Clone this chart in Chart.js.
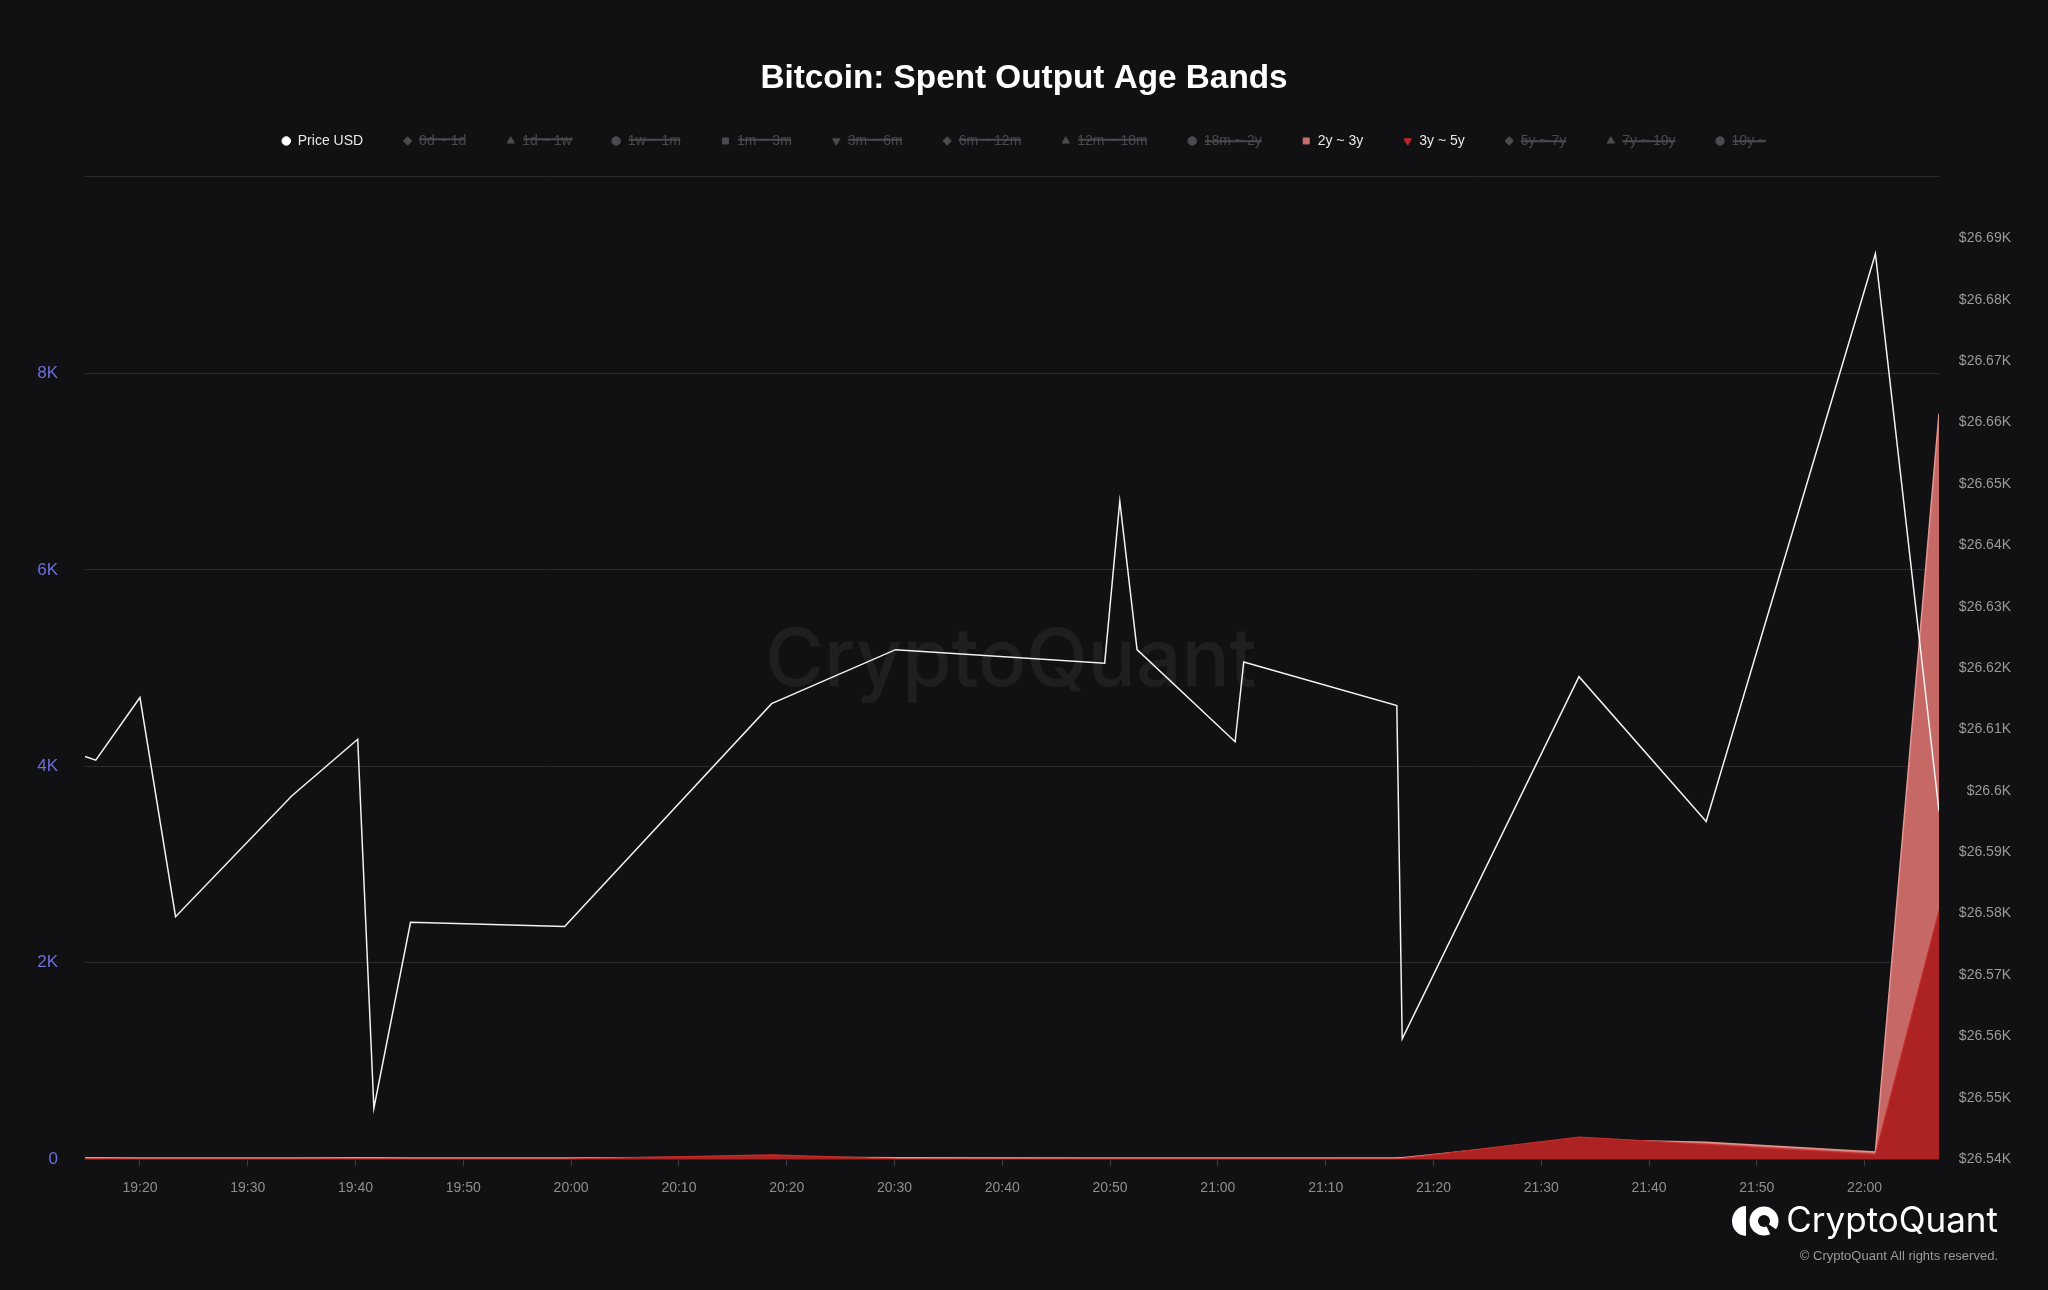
<!DOCTYPE html>
<html>
<head>
<meta charset="utf-8">
<title>Bitcoin: Spent Output Age Bands</title>
<script src="https://cdn.jsdelivr.net/npm/chart.js@4.4.1/dist/chart.umd.min.js"></script>
<style>
  html, body { margin: 0; padding: 0; background: #111114; }
  #wrap { width: 2048px; height: 1290px; position: relative; }
</style>
</head>
<body>
<div id="wrap"><canvas id="chart"></canvas></div>
<script>
// time in minutes after midnight (19:20 = 1160)
const times = [1154.9, 1155.9, 1160.0, 1163.3, 1174.1, 1180.2, 1181.7, 1185.1, 1199.4, 1218.6, 1230.1,
               1249.5, 1250.9, 1252.5, 1261.6, 1262.4, 1276.6, 1277.1, 1293.5, 1305.3, 1321.0, 1326.9];
const priceUsd = [26605.6, 26605.0, 26615.2, 26579.5, 26599.2, 26608.4, 26548.3, 26578.6, 26577.9, 26614.2, 26623.0,
                  26620.8, 26647.2, 26623.0, 26608.0, 26621.0, 26613.9, 26559.6, 26618.6, 26595.0, 26687.5, 26596.7];
const band2y3y = [14, 14, 12, 12, 12, 14, 14, 12, 12, 22, 14, 12, 12, 12, 12, 12, 14, 16, 200, 172, 74, 7590];
const band3y5y = [3, 3, 2, 2, 2, 3, 3, 2, 2, 45, 3, 2, 2, 2, 2, 2, 3, 5, 226, 150, 50, 2530];

const bandNames = ["0d ~ 1d", "1d ~ 1w", "1w ~ 1m", "1m ~ 3m", "3m ~ 6m", "6m ~ 12m", "12m ~ 18m",
                   "18m ~ 2y", "2y ~ 3y", "3y ~ 5y", "5y ~ 7y", "7y ~ 10y", "10y ~"];
const bandStyles = ["rectRot", "triangle", "circle", "rect", "triangle", "rectRot", "triangle",
                    "circle", "rect", "triangle", "rectRot", "triangle", "circle"];
const bandRotations = [0, 0, 0, 0, 180, 0, 0, 0, 0, 180, 0, 0, 0];

const leftTicks = [0, 2000, 4000, 6000, 8000, 10000];
const rightTickMin = 26540, rightTickMax = 26700;

function pts(values) {
    return times.map((t, i) => ({ x: t, y: values[i] }));
}

function fmtTime(v) {
    const h = Math.floor(v / 60);
    const m = Math.round(v - h * 60);
    return h + ':' + String(m).padStart(2, '0');
}

const datasets = [{
    label: "Price USD",
    data: pts(priceUsd),
    yAxisID: 'yR',
    borderColor: '#f2f2f2',
    backgroundColor: '#f2f2f2',
    legendColor: '#ffffff',
    borderWidth: 1.5,
    pointRadius: 0,
    pointStyle: 'circle',
    tension: 0,
    fill: false,
    order: 0
}];

bandNames.forEach((name, i) => {
    const ds = {
        label: name,
        data: [],
        yAxisID: 'yL',
        pointStyle: bandStyles[i],
        pointRotation: bandRotations[i],
        pointRadius: 0,
        borderWidth: 1,
        hidden: true,
        order: 3 + i,
        legendColor: '#4a4a50'
    };
    if (name === "2y ~ 3y") {
        Object.assign(ds, {
            data: pts(band2y3y), hidden: false, fill: 'origin', order: 2,
            backgroundColor: 'rgba(214,112,110,0.92)', borderColor: '#e39592',
            borderWidth: 1.5, legendColor: '#c86e6c'
        });
    }
    if (name === "3y ~ 5y") {
        Object.assign(ds, {
            data: pts(band3y5y), hidden: false, fill: 'origin', order: 1,
            backgroundColor: '#ad2323', borderColor: '#c92d2a',
            borderWidth: 1.2, legendColor: '#c0262a'
        });
    }
    datasets.push(ds);
});

const bgPlugin = {
    id: 'bg',
    beforeDraw(chart) {
        const ctx = chart.ctx;
        ctx.save();
        ctx.fillStyle = '#111114';
        ctx.fillRect(0, 0, chart.width, chart.height);
        ctx.restore();
    }
};

// extra room under the legend, the legend padding alone is not enough
const legendGapPlugin = {
    id: 'legendGap',
    beforeLayout(chart) {
        const lg = chart.legend;
        if (lg && !lg._gapPatched) {
            const fit = lg.fit.bind(lg);
            lg.fit = function() { fit(); this.height += 19; };
            lg._gapPatched = true;
        }
    }
};

const watermarkPlugin = {
    id: 'watermark',
    beforeDatasetsDraw(chart) {
        const ctx = chart.ctx;
        const a = chart.chartArea;
        ctx.save();
        ctx.fillStyle = 'rgba(255,255,255,0.06)';
        ctx.font = '500 80px Inter, "Noto Sans", sans-serif';
        ctx.textAlign = 'center';
        ctx.textBaseline = 'middle';
        ctx.fillText('CryptoQuant', (a.left + a.right) / 2 - 1, 662);
        ctx.restore();
    }
};

const logoPlugin = {
    id: 'logo',
    afterDraw(chart) {
        const ctx = chart.ctx;
        ctx.save();
        ctx.fillStyle = '#ffffff';
        // icon: left crescent + round mark
        ctx.beginPath();
        ctx.ellipse(1746, 1221, 14, 15, 0, Math.PI / 2, Math.PI * 1.5);
        ctx.closePath();
        ctx.fill();
        ctx.beginPath();
        ctx.arc(1764, 1221, 14.5, 0, Math.PI * 2);
        ctx.fill();
        ctx.fillStyle = '#111114';
        ctx.beginPath();
        ctx.arc(1764, 1221, 6, 0, Math.PI * 2);
        ctx.fill();
        ctx.beginPath();
        ctx.moveTo(1764, 1221);
        ctx.lineTo(1780, 1232);
        ctx.lineTo(1772, 1238);
        ctx.closePath();
        ctx.fill();
        ctx.fillStyle = '#ffffff';
        ctx.font = '400 35px Inter, "Noto Sans", sans-serif';
        ctx.textAlign = 'right';
        ctx.textBaseline = 'middle';
        ctx.fillText('CryptoQuant', 1998, 1221);
        ctx.fillStyle = '#9a9a9e';
        ctx.font = '13px "Liberation Sans", Arial, sans-serif';
        ctx.fillText('\u00a9 CryptoQuant All rights reserved.', 1998, 1256);
        ctx.restore();
    }
};

new Chart(document.getElementById('chart'), {
    type: 'line',
    data: { datasets: datasets },
    options: {
        responsive: true,
        maintainAspectRatio: false,
        animation: false,
        layout: { padding: { left: 37, right: 37, top: 0, bottom: 79 } },
        plugins: {
            title: {
                display: true,
                text: 'Bitcoin: Spent Output Age Bands',
                color: '#ffffff',
                font: { family: '"Liberation Sans", Arial, sans-serif', size: 33.3, weight: 'bold' },
                padding: { top: 59, bottom: -5 }
            },
            legend: {
                display: true,
                position: 'top',
                labels: {
                    usePointStyle: true,
                    boxWidth: 9,
                    boxHeight: 6,
                    padding: 40,
                    color: '#e8e8e8',
                    font: { family: '"Liberation Sans", Arial, sans-serif', size: 14 },
                    generateLabels(chart) {
                        const items = Chart.defaults.plugins.legend.labels.generateLabels(chart);
                        items.sort((a, b) => a.datasetIndex - b.datasetIndex);
                        items.forEach(it => {
                            const ds = chart.data.datasets[it.datasetIndex];
                            it.fillStyle = ds.legendColor;
                            it.strokeStyle = ds.legendColor;
                            it.lineWidth = 1;
                            it.fontColor = it.hidden ? '#4a4a50' : '#e8e8e8';
                        });
                        return items;
                    }
                }
            },
            tooltip: { enabled: false }
        },
        scales: {
            x: {
                type: 'linear',
                min: times[0],
                max: times[times.length - 1],
                grid: { drawOnChartArea: false, drawTicks: true, tickLength: 7, color: '#3a3a3f' },
                border: { display: false },
                ticks: {
                    stepSize: 10,
                    includeBounds: false,
                    autoSkip: false,
                    maxTicksLimit: 40,
                    maxRotation: 0,
                    padding: 14,
                    color: '#8e8e92',
                    font: { family: '"Liberation Sans", Arial, sans-serif', size: 14 },
                    callback: v => fmtTime(v)
                }
            },
            yL: {
                position: 'left',
                min: leftTicks[0],
                max: leftTicks[leftTicks.length - 1],
                grid: { color: '#2a2a2f', drawTicks: false },
                border: { display: false },
                afterFit(scale) { scale.width = 48; },
                ticks: {
                    stepSize: 2000,
                    padding: 27,
                    color: '#6d6dd8',
                    font: { family: '"Liberation Sans", Arial, sans-serif', size: 17 },
                    callback: v => v === 10000 ? '' : (v === 0 ? '0' : (v / 1000) + 'K')
                }
            },
            yR: {
                position: 'right',
                min: rightTickMin,
                max: rightTickMax,
                grid: { display: false, drawTicks: false },
                border: { display: false },
                afterFit(scale) { scale.width = 72; },
                ticks: {
                    stepSize: 10,
                    maxTicksLimit: 30,
                    crossAlign: 'far',
                    padding: 10,
                    color: '#9a9a9e',
                    font: { family: '"Liberation Sans", Arial, sans-serif', size: 14 },
                    callback: v => v === rightTickMax ? '' : '$' + parseFloat((v / 1000).toFixed(2)) + 'K'
                }
            }
        }
    },
    plugins: [bgPlugin, legendGapPlugin, watermarkPlugin, logoPlugin]
});
</script>
</body>
</html>
